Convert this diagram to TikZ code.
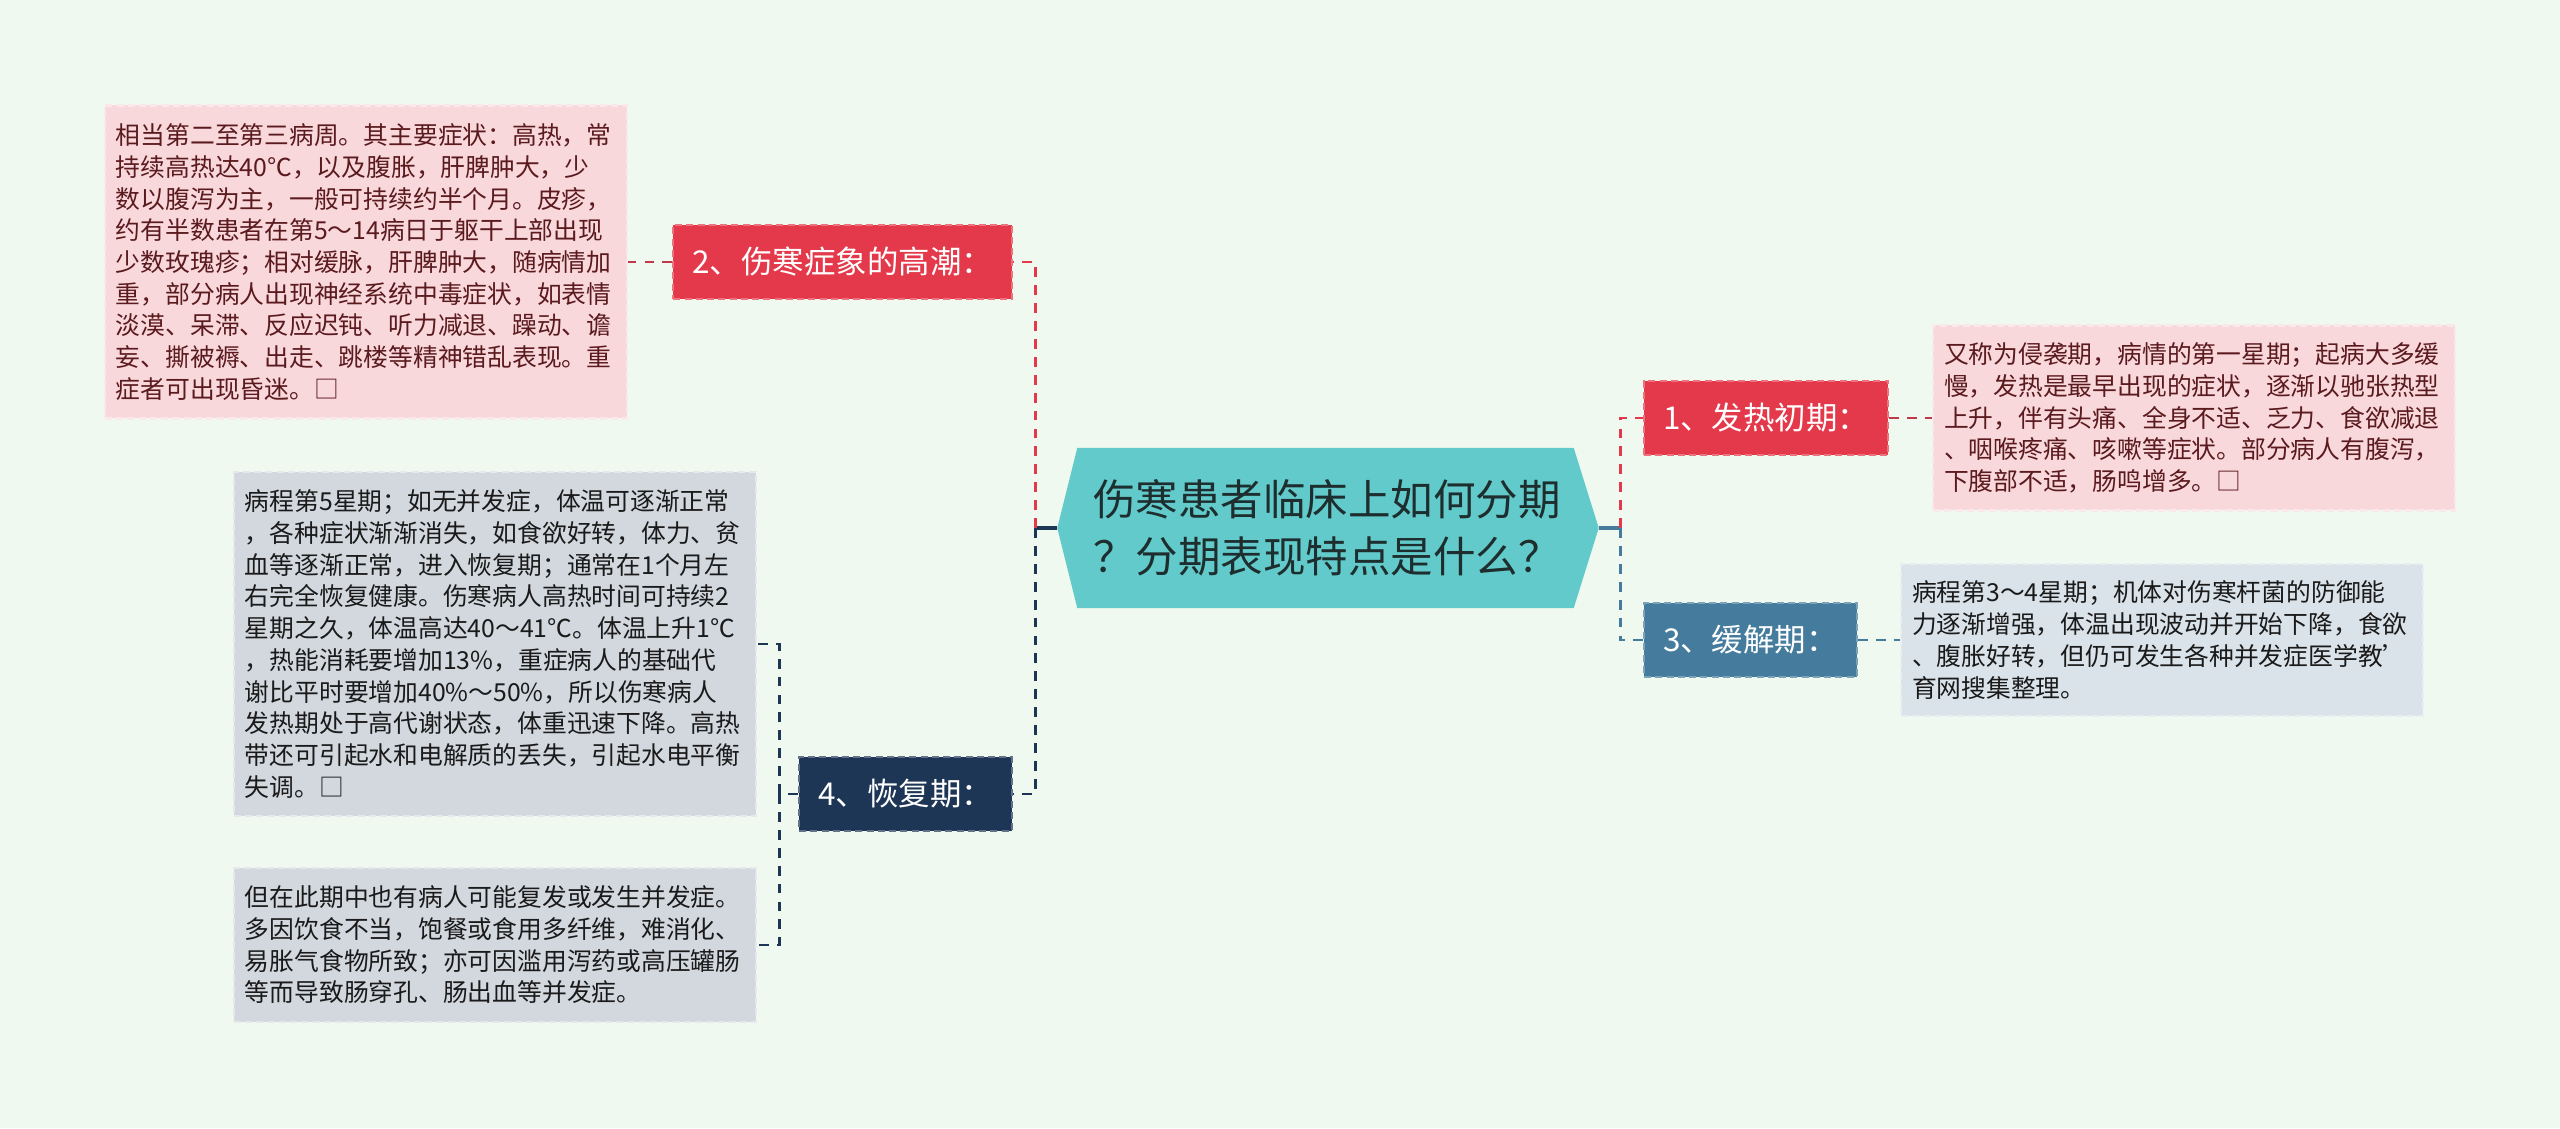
\documentclass[tikz,border=0pt]{standalone}
\usepackage{fontspec}
\setmainfont{Noto Sans CJK SC}
\usetikzlibrary{backgrounds}
\definecolor{bgmint}{HTML}{F0F9EF}
\definecolor{hexteal}{HTML}{62CACB}
\definecolor{hexink}{HTML}{1E2E2E}
\definecolor{redbox}{HTML}{E4394A}
\definecolor{navybox}{HTML}{1E3656}
\definecolor{bluebox}{HTML}{457B9D}
\definecolor{pinkbox}{HTML}{F9D8DC}
\definecolor{pinkink}{HTML}{5A1A1E}
\definecolor{graybox}{HTML}{D3D8DF}
\definecolor{paleblue}{HTML}{DAE3EA}
\definecolor{linkred}{HTML}{C0394A}
\definecolor{darkink}{HTML}{1A1A1A}

\begin{document}
\begin{tikzpicture}[
		link/.style={line width=0.85pt, dash pattern=on 2.8pt off 2.3pt},
		trunk/.style={line width=1.1pt},
		stage/.style={fill=#1, draw=#1!70!white, dash pattern=on 2pt off 1.2pt, line width=0.6pt, text=white, inner xsep=0.19cm, minimum height=0.74cm, font=\fontsize{8.95pt}{11pt}\selectfont},
		info/.style={fill=#1, draw=#1!60!white, dash pattern=on 2pt off 1.2pt, line width=0.6pt, text width=5cm, inner xsep=0.11cm, align=left, font=\fontsize{7.05pt}{9.02pt}\selectfont}
	]
		\node[text=hexink, font=\fontsize{12.1pt}{16.2pt}\selectfont, align=left, text width=4.7cm, minimum width=5.4cm, minimum height=1.59cm, inner sep=0pt] (title) at (13.28,6.00) {伤寒患者临床上如何分期\\？分期表现特点是什么？};

		\node[stage=redbox, anchor=east] (peak) at (10.13,8.66) {2、伤寒症象的高潮：};
		\node[stage=navybox, anchor=east] (recover) at (10.13,3.34) {4、恢复期：};
		\node[stage=redbox, anchor=west] (onset) at (16.43,7.10) {1、发热初期：};
		\node[stage=bluebox, anchor=west] (remit) at (16.43,4.88) {3、缓解期：};

		\node[info=pinkbox, text=pinkink, anchor=east, minimum height=3.13cm] (peakinfo) at (6.28,8.66) {相当第二至第三病周。其主要症状：高热，常\\持续高热达40℃，以及腹胀，肝脾肿大，少\\数以腹泻为主，一般可持续约半个月。皮疹，\\约有半数患者在第5～14病日于躯干上部出现\\少数玫瑰疹；相对缓脉，肝脾肿大，随病情加\\重，部分病人出现神经系统中毒症状，如表情\\淡漠、呆滞、反应迟钝、听力减退、躁动、谵\\妄、撕被褥、出走、跳楼等精神错乱表现。重\\症者可出现昏迷。□};
		\node[info=pinkbox, text=pinkink, anchor=west, minimum height=1.85cm] (onsetinfo) at (19.32,7.10) {又称为侵袭期，病情的第一星期；起病大多缓\\慢，发热是最早出现的症状，逐渐以驰张热型\\上升，伴有头痛、全身不适、乏力、食欲减退\\、咽喉疼痛、咳嗽等症状。部分病人有腹泻，\\下腹部不适，肠鸣增多。□};
		\node[info=paleblue, text=darkink, anchor=west, minimum height=1.52cm] (remitinfo) at (19.00,4.88) {病程第3～4星期；机体对伤寒杆菌的防御能\\力逐渐增强，体温出现波动并开始下降，食欲\\、腹胀好转，但仍可发生各种并发症医学教'\\育网搜集整理。};
		\node[info=graybox, text=darkink, anchor=east, minimum height=3.44cm] (recinfo) at (7.57,4.84) {病程第5星期；如无并发症，体温可逐渐正常\\，各种症状渐渐消失，如食欲好转，体力、贫\\血等逐渐正常，进入恢复期；通常在1个月左\\右完全恢复健康。伤寒病人高热时间可持续2\\星期之久，体温高达40～41℃。体温上升1℃\\，热能消耗要增加13\%，重症病人的基础代\\谢比平时要增加40\%～50\%，所以伤寒病人\\发热期处于高代谢状态，体重迅速下降。高热\\带还可引起水和电解质的丢失，引起水电平衡\\失调。□};
		\node[info=graybox, text=darkink, anchor=east, minimum height=1.54cm] (relapseinfo) at (7.57,1.83) {但在此期中也有病人可能复发或发生并发症。\\多因饮食不当，饱餐或食用多纤维，难消化、\\易胀气食物所致；亦可因滥用泻药或高压罐肠\\等而导致肠穿孔、肠出血等并发症。};

		\begin{scope}[on background layer]
			\fill[bgmint] (0,0) rectangle (25.6,11.28);
			\fill[hexteal] (title.west) -- ([xshift=0.2cm]title.north west) -- ([xshift=-0.25cm]title.north east) -- (title.east) -- ([xshift=-0.25cm]title.south east) -- ([xshift=0.2cm]title.south west) -- cycle;
		\end{scope}

		\coordinate (lj) at (10.35,6.00);
		\coordinate (rj) at (16.20,6.00);
		\coordinate (lk) at (7.79,3.34);
		\draw[trunk, navybox] (title.west) -- (lj);
		\draw[trunk, bluebox] (title.east) -- (rj);
		\draw[link, redbox] (lj) |- (peak.east);
		\draw[link, navybox] (lj) |- (recover.east);
		\draw[link, redbox] (rj) |- (onset.west);
		\draw[link, bluebox] (rj) |- (remit.west);
		\draw[link, linkred] (peak.west) -- (peakinfo.east);
		\draw[link, linkred] (onset.east) -- (onsetinfo.west);
		\draw[link, bluebox] (remit.east) -- (remitinfo.west);
		\draw[link, navybox] (recover.west) -- (lk);
		\draw[link, navybox] (lk) |- (recinfo.east) (lk) |- (relapseinfo.east);
\end{tikzpicture}
\end{document}
